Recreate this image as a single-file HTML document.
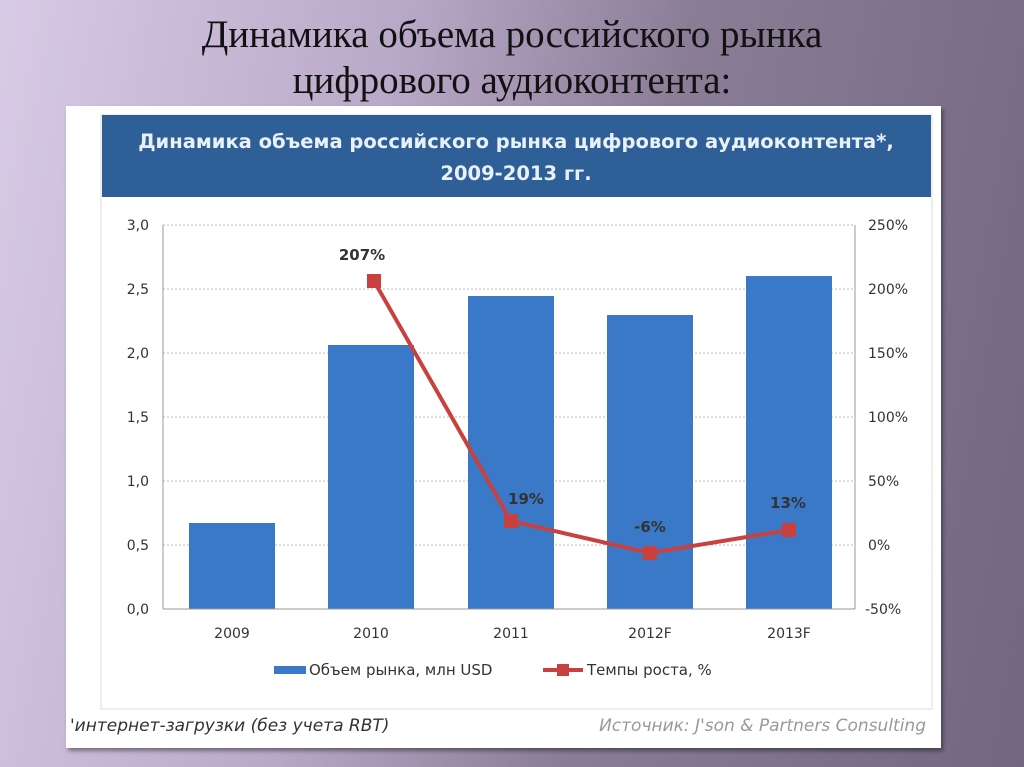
<!DOCTYPE html>
<html><head><meta charset="utf-8"><style>
body{margin:0;width:1024px;height:767px;overflow:hidden;background:linear-gradient(100deg,#d8cbe6 0%,#b9a9c8 35%,#8a7d96 60%,#736780 100%);font-family:"Liberation Sans","DejaVu Sans",sans-serif;position:relative}
.t{position:absolute;left:0;width:1024px;text-align:center;top:12px;font-family:"Liberation Serif",serif;font-size:39px;line-height:46px;color:#111}
.panel{position:absolute;left:66px;top:106px;width:875px;height:642px;background:#fff;box-shadow:2px 3px 4px rgba(0,0,0,.4)}
</style></head><body>
<div class="t">Динамика объема российского рынка<br>цифрового аудиоконтента:</div>
<div class="panel"></div>
<svg width="1024" height="767" style="position:absolute;left:0;top:0" font-family="DejaVu Sans, sans-serif">
<rect x="101" y="115" width="831" height="594" fill="none" stroke="#ddd"/>
<rect x="102" y="115" width="829" height="82" fill="#2f5f97"/>
<text x="516" y="148" text-anchor="middle" fill="#e8f0f8" font-weight="bold" font-size="19.5">Динамика объема российского рынка цифрового аудиоконтента*,</text>
<text x="516" y="180" text-anchor="middle" fill="#e8f0f8" font-weight="bold" font-size="19.5">2009-2013  гг.</text>
<g stroke="#bbb" stroke-dasharray="2,2">
<line x1="163" y1="225" x2="855" y2="225"/><line x1="163" y1="289" x2="855" y2="289"/><line x1="163" y1="353" x2="855" y2="353"/><line x1="163" y1="417" x2="855" y2="417"/><line x1="163" y1="481" x2="855" y2="481"/><line x1="163" y1="545" x2="855" y2="545"/></g>
<g fill="#3a78c8">
<rect x="189" y="523" width="86" height="86"/><rect x="328" y="345" width="86" height="264"/><rect x="468" y="296" width="86" height="313"/><rect x="607" y="315" width="86" height="294"/><rect x="746" y="276" width="86" height="333"/></g>
<g stroke="#999"><line x1="163" y1="225" x2="163" y2="609"/><line x1="855" y1="225" x2="855" y2="609"/><line x1="163" y1="609" x2="855" y2="609"/></g>
<g font-size="14" fill="#333" text-anchor="end">
<text x="149" y="230">3,0</text><text x="149" y="294">2,5</text><text x="149" y="358">2,0</text><text x="149" y="422">1,5</text><text x="149" y="486">1,0</text><text x="149" y="550">0,5</text><text x="149" y="614">0,0</text></g>
<g font-size="14" fill="#333">
<text x="868" y="230">250%</text><text x="868" y="294">200%</text><text x="868" y="358">150%</text><text x="868" y="422">100%</text><text x="868" y="486">50%</text><text x="868" y="550">0%</text><text x="865" y="614">-50%</text></g>
<g font-size="14" fill="#333" text-anchor="middle">
<text x="232" y="638">2009</text><text x="371" y="638">2010</text><text x="511" y="638">2011</text><text x="650" y="638">2012F</text><text x="789" y="638">2013F</text></g>
<polyline points="374,281 511,521 650,553 789,530" fill="none" stroke="#c9413f" stroke-width="4"/>
<g fill="#c9413f"><rect x="367" y="274" width="14" height="14"/><rect x="504" y="514" width="14" height="14"/><rect x="643" y="546" width="14" height="14"/><rect x="782" y="523" width="14" height="14"/></g>
<g font-size="15" font-weight="bold" fill="#333" text-anchor="middle">
<text x="362" y="260">207%</text><text x="526" y="504">19%</text><text x="650" y="532">-6%</text><text x="788" y="508">13%</text></g>
<rect x="274" y="666" width="32" height="8" fill="#3a78c8"/>
<text x="309" y="675" font-size="15" fill="#333">Объем рынка, млн USD</text>
<line x1="543" y1="670" x2="583" y2="670" stroke="#c9413f" stroke-width="4"/><rect x="557" y="664" width="12" height="12" fill="#c9413f"/>
<text x="587" y="675" font-size="15" fill="#333">Темпы роста, %</text>
<g font-size="17" font-style="italic"><text x="70" y="731" fill="#333">'интернет-загрузки (без учета RBT)</text>
<text x="926" y="731" fill="#999" text-anchor="end">Источник:  J'son  &amp;  Partners  Consulting</text></g>
</svg>
</body></html>
